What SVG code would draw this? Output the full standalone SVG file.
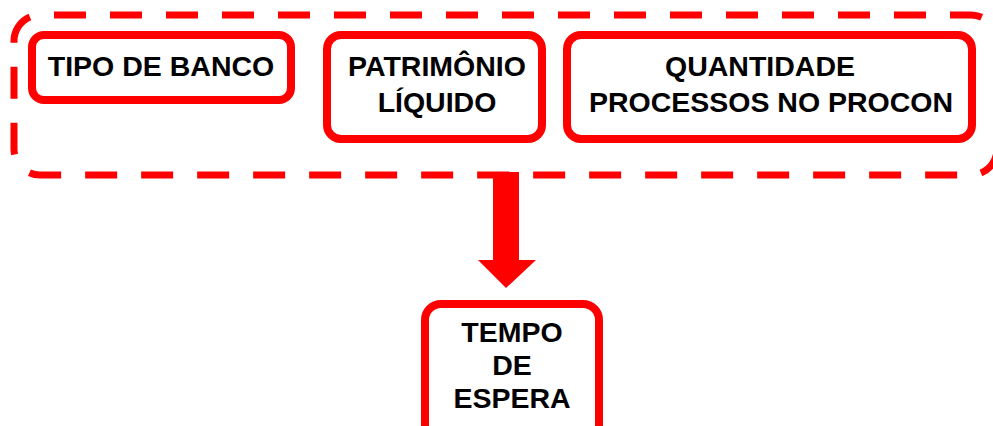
<svg xmlns="http://www.w3.org/2000/svg" width="993" height="426" viewBox="0 0 993 426">
<style>
.box{fill:#fff;stroke:#ff0000;stroke-width:8}
.grp{fill:none;stroke:#ff0000;stroke-width:7;stroke-dasharray:32 24;stroke-dashoffset:42}
.t{font-family:"Liberation Sans",Arial,sans-serif;font-weight:bold;font-size:28.5px;fill:#000;text-anchor:middle}
</style>
<rect width="993" height="426" fill="#fff"/>
<g id="group">
<rect class="grp" x="14" y="15" width="983" height="160" rx="26"/>
</g>
<g id="connectors">
<polygon points="493,172 519,172 519,260 536,260 506,288 478,260 493,260" fill="#ff0000"/>
</g>
<g id="tipo-de-banco">
<rect class="box" x="32" y="35" width="259" height="65" rx="12"/>
<text class="t" x="161" y="76">TIPO DE BANCO</text>
</g>
<g id="patrimonio-liquido">
<rect class="box" x="327" y="35" width="215" height="104" rx="14"/>
<text class="t" x="437" y="76">PATRIMÔNIO</text>
<text class="t" x="437" y="112">LÍQUIDO</text>
</g>
<g id="quantidade-processos">
<rect class="box" x="567" y="35" width="405" height="104" rx="14"/>
<text class="t" x="760" y="76">QUANTIDADE</text>
<text class="t" x="771" y="112">PROCESSOS NO PROCON</text>
</g>
<g id="tempo-de-espera">
<rect class="box" x="425" y="304" width="174" height="140" rx="16"/>
<text class="t" x="512" y="342">TEMPO</text>
<text class="t" x="512" y="375">DE</text>
<text class="t" x="512" y="408">ESPERA</text>
</g>
</svg>
